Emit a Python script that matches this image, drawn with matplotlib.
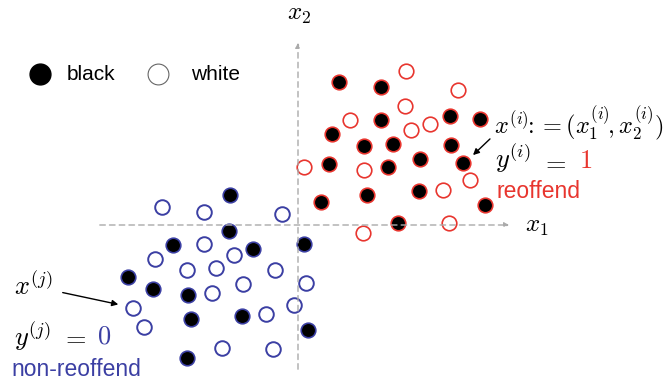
import matplotlib.pyplot as plt

plt.rcParams['mathtext.fontset'] = 'cm'
plt.rcParams['font.family'] = ['Liberation Sans', 'DejaVu Sans']

RED = '#e8352e'
BLUE = '#3b3fa3'

# point positions (pixel-like units, y grows downward)
red_black_x = [339, 381, 381, 450, 480, 332, 364, 393, 451, 420, 329, 388, 463, 321, 367, 419, 485, 398]
red_black_y = [82, 87, 120, 116, 119, 134, 146, 144, 145, 159, 164, 167, 163, 202, 195, 191, 205, 223]
red_white_x = [406, 458, 405, 350, 430, 411, 304, 364, 470, 443, 449, 363]
red_white_y = [71, 90, 106, 120, 124, 130, 167, 170, 180, 190, 223, 233]
blue_black_x = [230, 229, 173, 253, 304, 128, 153, 188, 191, 242, 308, 187]
blue_black_y = [195, 231, 245, 249, 244, 277, 289, 295, 319, 316, 330, 358]
blue_white_x = [162, 204, 282, 204, 155, 234, 187, 216, 275, 243, 306, 212, 133, 294, 266, 144, 222, 273]
blue_white_y = [207, 212, 214, 244, 259, 255, 270, 268, 270, 284, 283, 293, 308, 305, 314, 327, 348, 349]

fig = plt.figure(figsize=(6.65, 3.83), dpi=100)
ax = fig.add_axes([0, 0, 1, 1])
ax.set_xlim(0, 665)
ax.set_ylim(383, 0)
ax.axis('off')

# dashed axes with arrows
ax.annotate('', xy=(512, 225), xytext=(97, 225),
            arrowprops=dict(arrowstyle='-|>', color='#aaaaaa', lw=1, ls=(0, (4, 3)),
                            mutation_scale=7))
ax.annotate('', xy=(298, 40), xytext=(298, 372),
            arrowprops=dict(arrowstyle='-|>', color='#aaaaaa', lw=1, ls=(0, (4, 3)),
                            mutation_scale=7))
ax.text(525, 226, r'$x_1$', fontsize=18, va='center', ha='left')
ax.text(299, 14, r'$x_2$', fontsize=18, va='center', ha='center')

ms = 10.5
ax.plot(red_white_x, red_white_y, 'o', ms=ms, mfc='white', mec=RED, mew=1.2)
ax.plot(red_black_x, red_black_y, 'o', ms=ms, mfc='black', mec=RED, mew=1.2)
ax.plot(blue_white_x, blue_white_y, 'o', ms=ms, mfc='white', mec=BLUE, mew=1.4)
ax.plot(blue_black_x, blue_black_y, 'o', ms=ms, mfc='black', mec=BLUE, mew=1.2)

# legend
ax.plot([40], [74], 'o', ms=15, mfc='black', mec='black')
ax.text(67, 75, 'black', fontsize=15, va='center')
ax.plot([158], [74], 'o', ms=15, mfc='white', mec='#666666', mew=0.8)
ax.text(191, 75, 'white', fontsize=15, va='center')

# annotations for i
ax.annotate('', xy=(471, 157), xytext=(492, 137),
            arrowprops=dict(arrowstyle='-|>', color='black', lw=1, mutation_scale=9))
ax.text(494, 124, r'$x^{(i)}\!\!:= (x_1^{(i)}\!, x_2^{(i)})$', fontsize=17.5, va='center')
ax.text(495, 158, r'$y^{(i)}$', fontsize=19, va='center')
ax.text(541, 163, r'$=$', fontsize=19, va='center')
ax.text(579, 161, r'$1$', fontsize=19, va='center', color=RED)
ax.text(497, 191, 'reoffend', fontsize=16.5, va='center', color=RED)

# annotations for j
ax.text(14, 286, r'$x^{(j)}$', fontsize=19, va='center')
ax.annotate('', xy=(121, 305), xytext=(60, 292),
            arrowprops=dict(arrowstyle='-|>', color='black', lw=1, mutation_scale=9))
ax.text(14, 336, r'$y^{(j)}$', fontsize=19, va='center')
ax.text(61, 338, r'$=$', fontsize=19, va='center')
ax.text(97, 336, r'$0$', fontsize=19, va='center', color=BLUE)
ax.text(11, 370, 'non-reoffend', fontsize=16.5, va='center', color=BLUE)

fig.savefig('out.png', dpi=100)
